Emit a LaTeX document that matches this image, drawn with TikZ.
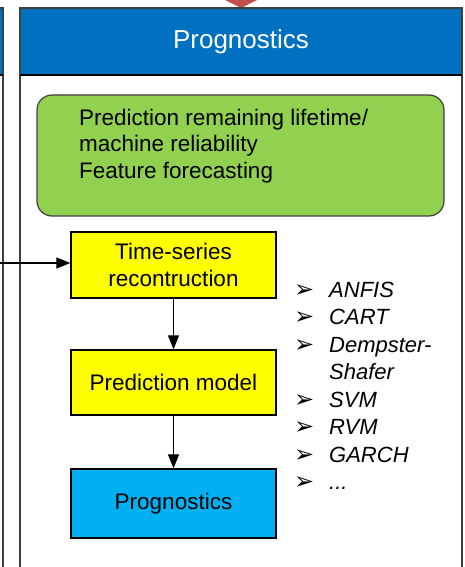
\documentclass[tikz,border=0pt]{standalone}
\usepackage{fontspec}
\setmainfont{Liberation Sans}
\newfontfamily\symfont{DejaVu Sans}
\usetikzlibrary{arrows.meta}
\definecolor{hdrblue}{HTML}{0070C0}
\definecolor{leafgreen}{HTML}{92D050}
\definecolor{boxyellow}{HTML}{FFFF00}
\definecolor{skyblue}{HTML}{00B0F0}
\definecolor{arrowred}{HTML}{C0504D}
\definecolor{framegray}{HTML}{404040}
\begin{document}
\begin{tikzpicture}[x=1pt,y=-1pt,
  stepbox/.style={draw=black, line width=1.3pt, minimum width=205pt,
    align=center, inner sep=0pt, font=\fontsize{22.5}{27}\selectfont},
  flow/.style={-{Triangle[length=14pt,width=11pt]}, line width=1.2pt},
  goaltext/.style={anchor=base west, inner sep=0pt, font=\fontsize{22.5}{27}\selectfont},
  bul/.style={anchor=base west, inner sep=0pt, font=\symfont\fontsize{24}{27}\selectfont},
  item/.style={anchor=base west, inner sep=0pt, font=\fontsize{22}{27}\selectfont\itshape},
]
\useasboundingbox (0,0) rectangle (464,567);

\begin{scope}
  \clip (0,0) rectangle (464,567);
  % neighbouring panel on the left
  \fill[hdrblue] (-10,8) rectangle (3,75);
  \draw[framegray, line width=1.6pt] (-10,8) -- (3,8) -- (3,580);
  \draw[line width=1.2pt] (-10,75) -- (3,75);
  % incoming arrow tip from above
  \fill[arrowred] (221,-2) -- (261,-2) -- (241,8) -- cycle;
  % main panel with header band
  \fill[hdrblue] (20,8) rectangle (462,75);
  \draw[framegray, line width=1.8pt] (20,580) -- (20,8) -- (462,8) -- (462,580);
  \draw[line width=1.3pt] (20,75) -- (462,75);
\end{scope}

\node[text=white, font=\fontsize{26}{30}\selectfont] (title) at (241,42) {Prognostics};

% goals
\node[draw=framegray, fill=leafgreen, rounded corners=15pt, line width=1.2pt,
      minimum width=407pt, minimum height=121pt, inner sep=0pt] (goal) at (240.5,155.5) {};
\node[goaltext] (g1) at (79,125) {Prediction remaining lifetime/};
\node[goaltext] (g2) at (79,151.5) {machine reliability};
\node[goaltext] (g3) at (79,178) {Feature forecasting};

% processing chain
\node[stepbox, fill=boxyellow, minimum height=66pt] (ts) at (173.5,265) {Time-series\\recontruction};
\node[stepbox, fill=boxyellow, minimum height=65pt] (pm) at (173.5,382.5) {Prediction model};
\node[stepbox, fill=skyblue, minimum height=69pt] (pr) at (173.5,503.5) {Prognostics};

\coordinate (feed) at (0,263);
\draw[flow] (feed) -- (feed -| ts.west);
\draw[flow] (ts.south) -- (pm.north);
\draw[flow] (pm.south) -- (pr.north);

% methods
\node[bul] (b1) at (294,297) {➢};   \node[item] (m1) at (329,297) {ANFIS};
\node[bul] (b2) at (294,324.5) {➢}; \node[item] (m2) at (329,324.5) {CART};
\node[bul] (b3) at (294,352) {➢};   \node[item] (m3) at (329,352) {Dempster-};
                                    \node[item] (m3b) at (329,379.5) {Shafer};
\node[bul] (b4) at (294,407) {➢};   \node[item] (m4) at (329,407) {SVM};
\node[bul] (b5) at (294,434.5) {➢}; \node[item] (m5) at (329,434.5) {RVM};
\node[bul] (b6) at (294,462) {➢};   \node[item] (m6) at (329,462) {GARCH};
\node[bul] (b7) at (294,489.5) {➢}; \node[item] (m7) at (329,489.5) {...};
\end{tikzpicture}
\end{document}
